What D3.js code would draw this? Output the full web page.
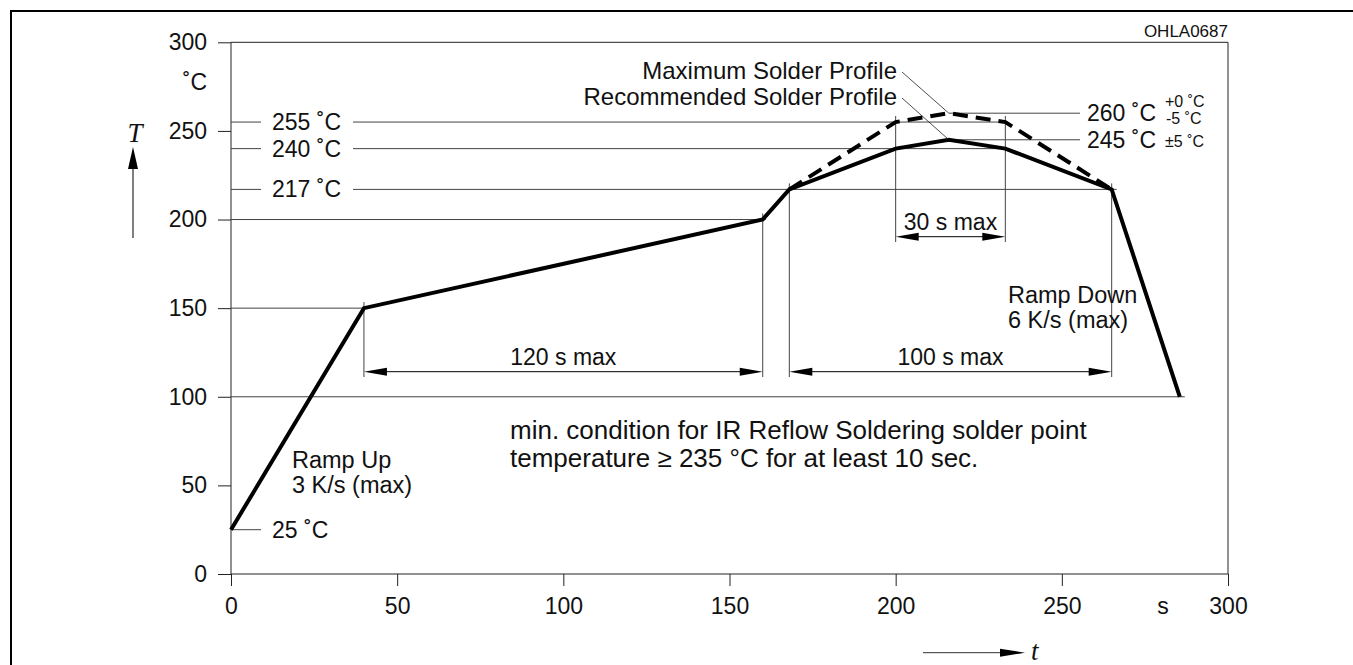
<!DOCTYPE html>
<html><head><meta charset="utf-8">
<script src="https://cdn.jsdelivr.net/npm/d3@7"></script>
<style>
html,body{margin:0;padding:0;background:#fff;}
svg{display:block;}
text{font-family:"Liberation Sans",Arial,Helvetica,sans-serif;fill:#111;}
</style>
</head><body>
<svg id="chart" width="1353" height="665"></svg>
<script>
// ---- data ----
const timeTicks = [0, 50, 100, 150, 200, 250, 300];
const tempTicks = [0, 50, 100, 150, 200, 250, 300];
const recTime = [0, 40, 160, 168, 200, 216, 233, 265, 285.5];
const recTemp = [25, 150, 200, 217, 240, 245, 240, 217, 100];
const maxTime = [168, 200, 216, 233, 265];
const maxTemp = [217, 255, 260, 255, 217];
const levelTemps = [255, 240, 217, 25];
const levelLabels = ["255 ˚C", "240 ˚C", "217 ˚C", "25 ˚C"];
const levelEnds = [233, 233, 266.5, null];
const dimFrom = [40, 168, 200];
const dimTo = [160, 265, 233];
const dimLabels = ["120 s max", "100 s max", "30 s max"];
const peakTemps = [260, 245];
const peakLabels = ["260 ˚C", "245 ˚C"];
const profileNames = ["Maximum Solder Profile", "Recommended Solder Profile"];

// ---- layout ----
const svg = d3.select("#chart");
const x = d3.scaleLinear().domain([0, 300]).range([231, 1228]);
const y = d3.scaleLinear().domain([0, 300]).range([574, 42.3]);
const AX = "#222", REF = "#444";

svg.append("rect").attr("width", 1353).attr("height", 665).attr("fill", "#fff");
// outer border
svg.append("path").attr("d", "M11,665V11H1353").attr("fill", "none").attr("stroke", "#000").attr("stroke-width", 2);

function line(x1, y1, x2, y2, color, w) {
  svg.append("line").attr("x1", x1).attr("y1", y1).attr("x2", x2).attr("y2", y2)
    .attr("stroke", color || REF).attr("stroke-width", w || 1);
}
function arrowHead(tx, ty, dx, dy, len, hw) {
  const px = -dy, py = dx;
  const bx = tx - dx * len, by = ty - dy * len;
  svg.append("path")
    .attr("d", `M${tx},${ty}L${bx + px * hw},${by + py * hw}L${bx - px * hw},${by - py * hw}Z`)
    .attr("fill", "#000");
}

// axes
const yAxis = d3.axisLeft(y).tickValues(tempTicks).tickSize(13).tickPadding(11).tickFormat(d3.format("d"));
const gy = svg.append("g").attr("transform", `translate(${x(0)},0)`).call(yAxis);
const xAxis = d3.axisBottom(x).tickValues(timeTicks).tickSize(12).tickPadding(12).tickFormat(d3.format("d"));
const gx = svg.append("g").attr("transform", `translate(0,${y(0)})`).call(xAxis);
[gy, gx].forEach(g => {
  g.select(".domain").remove();
  g.selectAll(".tick line").attr("stroke", AX);
  g.selectAll(".tick text").attr("font-size", 23).attr("fill", "#111")
    .style("font-family", '"Liberation Sans",Arial,sans-serif');
});
// frame
line(x(0), y(0), x(300), y(0), AX);
line(x(0), y(0), x(0), y(300), AX);
line(x(0), y(300), x(300), y(300), AX);
line(x(300), y(300), x(300), y(0), AX);

// units
svg.append("text").attr("x", 207).attr("y", 90).attr("text-anchor", "end").attr("font-size", 23).text("˚C");
svg.append("text").attr("x", 1163).attr("y", 614).attr("text-anchor", "middle").attr("font-size", 23).text("s");
svg.append("text").attr("x", 1228).attr("y", 37).attr("text-anchor", "end").attr("font-size", 17).text("OHLA0687");

// axis arrows
line(133, 238, 133, 160, "#555", 1.5);
arrowHead(133, 147, 0, -1, 22, 5);
svg.append("text").attr("x", 135).attr("y", 142).attr("text-anchor", "middle")
  .attr("font-size", 27).attr("font-style", "italic").style("font-family", '"Liberation Serif","Times New Roman",serif').text("T");
line(923, 652.7, 1005, 652.7, "#333", 1);
arrowHead(1025, 652.7, 1, 0, 25, 4);
svg.append("text").attr("x", 1031).attr("y", 660).attr("font-size", 27).attr("font-style", "italic")
  .style("font-family", '"Liberation Serif","Times New Roman",serif').text("t");

// horizontal reference lines
line(x(0), y(200), x(160) + 3, y(200));
line(x(0), y(150), x(40), y(150));
line(x(0), y(100), x(287), y(100));
levelTemps.forEach((t, i) => {
  line(x(0), y(t), 261, y(t));
  if (levelEnds[i] !== null) line(353, y(t), x(levelEnds[i]), y(t));
  svg.append("text").attr("x", 272).attr("y", y(t) + 8).attr("font-size", 23).text(levelLabels[i]);
});
peakTemps.forEach((t, i) => {
  line(x(216), y(t), 1080, y(t));
  svg.append("text").attr("x", 1087).attr("y", y(t) + 8).attr("font-size", 23).text(peakLabels[i]);
});
// tolerances
svg.append("text").attr("x", 1165).attr("y", 107).attr("font-size", 16).text("+0 ˚C");
svg.append("text").attr("x", 1166).attr("y", 124).attr("font-size", 16).text("-5 ˚C");
svg.append("text").attr("x", 1165).attr("y", 147).attr("font-size", 16).text("±5 ˚C");

// vertical extension lines
line(x(40), y(150) - 6, x(40), 377);
line(x(160), y(200) - 6, x(160), 377);
line(x(168), y(217) - 6, x(168), 377);
line(x(265), y(217) - 6, x(265), 377);
line(x(200), 116, x(200), 242);
line(x(233), 116, x(233), 242);

// dimension arrows
const dimY = [371.7, 371.7, 236.7];
dimFrom.forEach((a, i) => {
  const x1 = x(a), x2 = x(dimTo[i]), yy = dimY[i];
  line(x1 + 10, yy, x2 - 10, yy, "#000");
  arrowHead(x1, yy, -1, 0, 23, 4);
  arrowHead(x2, yy, 1, 0, 23, 4);
  svg.append("text").attr("x", (x1 + x2) / 2).attr("y", yy - 7).attr("text-anchor", "middle")
    .attr("font-size", 23).text(dimLabels[i]);
});

// profiles
const lg = d3.line().x(d => x(d[0])).y(d => y(d[1]));
svg.append("path").datum(maxTime.map((t, i) => [t, maxTemp[i]]))
  .attr("d", lg).attr("fill", "none").attr("stroke", "#000").attr("stroke-width", 4)
  .attr("stroke-dasharray", "15,8");
svg.append("path").datum(recTime.map((t, i) => [t, recTemp[i]]))
  .attr("d", lg).attr("fill", "none").attr("stroke", "#000").attr("stroke-width", 4)
  .attr("stroke-linejoin", "miter");

// profile labels and leaders
const labY = [79, 105];
profileNames.forEach((n, i) => {
  svg.append("text").attr("x", 897).attr("y", labY[i]).attr("text-anchor", "end").attr("font-size", 24).text(n);
  line(902, labY[i] - 7, x(216), y(peakTemps[i]), "#222", 0.8);
});

// notes
function multi(xp, yp, lines, size, pitch) {
  const t = svg.append("text").attr("x", xp).attr("y", yp).attr("font-size", size);
  lines.forEach((l, i) => t.append("tspan").attr("x", xp).attr("y", yp + i * pitch).text(l));
}
multi(292, 468, ["Ramp Up", "3 K/s (max)"], 23.5, 25);
multi(1008, 303, ["Ramp Down", "6 K/s (max)"], 23.5, 25);
multi(510, 439, ["min. condition for IR Reflow Soldering solder point", "temperature ≥ 235 °C for at least 10 sec."], 26, 28);
</script>
</body></html>
